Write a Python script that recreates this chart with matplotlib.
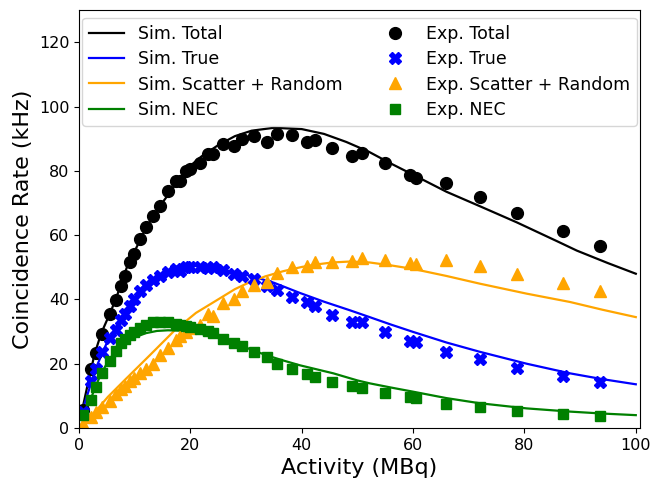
import numpy as np
import matplotlib
matplotlib.use("Agg")
import matplotlib.pyplot as plt

# --- simulated curves ---
sim_total_x = [0, 0.7, 1.5, 2.8, 4, 5.8, 7, 8.8, 10, 11.8, 13, 14.8, 16, 17.8, 19.6, 22, 25, 28, 31, 35,
               40, 44, 48, 52, 56, 60, 66, 72, 78.6, 86, 89.4, 95, 100]
sim_total_y = [5, 6.6, 13, 23, 29.5, 36.6, 42, 51, 55, 61.4, 65, 69.7, 72.5, 76.9, 81, 84.5, 88, 90.8, 92.5, 93.4,
               93, 91.5, 89, 86, 82.3, 78.8, 73.5, 69, 64, 58, 55.2, 51.3, 48]

sim_true_x = [0, 1, 2, 3, 4, 5, 6, 7, 8, 9, 10, 12, 14, 16, 18, 20, 22, 25, 28, 30.7, 35, 39.7, 44, 48.7,
              52.2, 56, 60, 66, 72, 80.4, 88.2, 94, 100]
sim_true_y = [4.5, 7.5, 13, 18.5, 22.5, 26.5, 29.5, 32.5, 35, 37.5, 39.5, 43, 46, 48.2, 49.6, 50.4, 50.4, 49.6,
              48.4, 47.4, 45.2, 42, 39.3, 36.6, 34.5, 32.2, 29.9, 26.6, 23.7, 20, 17, 15.2, 13.6]

sim_sr_x = [0, 2, 5.2, 8.2, 12.7, 17.2, 21, 24.7, 28, 30.7, 33.5, 36.7, 40, 42.7, 45.5, 48.7, 52.2, 56, 60,
            66, 72, 80.4, 88.2, 94, 100]
sim_sr_y = [0.5, 3.2, 9.7, 14.9, 22.6, 30.4, 35.8, 39.7, 43.2, 45.4, 47.2, 48.8, 50.1, 50.9, 51.5, 51.8, 51.5,
            50.6, 49.5, 47.3, 44.9, 41.8, 39.2, 36.8, 34.5]

sim_nec_x = [0, 1, 2, 3, 4, 5, 6, 7, 8, 9, 10, 12, 14, 16, 18, 20, 22, 25, 27.7, 30, 33.7, 36.7, 39.7, 45.7,
             50, 52.2, 56, 60, 66, 72, 80.4, 88.2, 94, 100]
sim_nec_y = [3, 4.5, 8.5, 13, 17, 20, 22.5, 24.5, 26, 27.3, 28.2, 29.5, 30.2, 30.4, 30.3, 29.9, 29.3, 28.2,
             26.8, 25, 22.6, 21, 19.5, 17, 14.8, 13.9, 12.6, 11.3, 9.3, 7.7, 6.1, 5.1, 4.5, 4.0]

# --- experimental points ---
exp_x = [0.7, 2.2, 3.1, 4.1, 5.5, 6.7, 7.5, 8.2, 9.1, 9.9, 10.9, 12.1, 13.3, 14.5, 16.0, 17.5, 18.1, 19.3,
         19.9, 21.7, 23.2, 24.1, 25.9, 27.9, 29.2, 31.4, 33.8, 35.5, 38.2, 40.9, 42.4, 45.5, 49.1, 50.8,
         54.9, 59.4, 60.5, 66.0, 72.0, 78.7, 86.9, 93.5]
exp_total = [5.6, 18.5, 23.2, 29.4, 35.6, 39.7, 44.3, 47.4, 51.6, 54.2, 58.8, 62.4, 66.0, 69.1, 73.8, 76.9,
             76.9, 80.0, 80.5, 82.6, 85.2, 85.2, 88.3, 87.8, 89.8, 90.9, 89.1, 91.4, 91.2, 89.1, 89.6, 87.0,
             84.7, 85.5, 82.6, 78.7, 77.9, 76.2, 72.0, 66.9, 61.4, 56.7]
exp_true = [5.0, 14.5, 18.5, 23.5, 28, 30.5, 33.5, 35.5, 38, 40, 42.5, 44.5, 46, 47.2, 48.6, 49.4, 49.0, 50.0,
            50.0, 50.2, 49.8, 50.0, 49.2, 47.8, 47.4, 46.5, 44.3, 42.8, 40.7, 39.2, 38.1, 35.3, 33.0, 33.0,
            29.9, 27.0, 26.8, 23.7, 21.6, 18.8, 16.1, 14.4]
exp_sr = [1.4, 3.5, 5.0, 6.5, 8.5, 10.5, 12.0, 13.0, 14.5, 15.5, 17.0, 18.5, 19.8, 22.6, 25.0, 27.5, 28.5, 30.0,
          31.0, 32.2, 35.6, 35.0, 38.9, 40.2, 42.6, 44.6, 45.4, 48.3, 50.0, 50.5, 51.6, 51.8, 51.9, 52.9,
          52.4, 51.3, 51.1, 52.4, 50.5, 48.0, 45.2, 42.5]
exp_nec = [4.0, 8.7, 12.8, 17.0, 21.0, 24.0, 26.3, 27.8, 29.0, 30.0, 31.0, 32.0, 33.0, 33.0, 33.0, 32.5, 32.2,
           31.8, 31.4, 30.9, 30.2, 29.6, 27.8, 26.3, 25.5, 23.8, 22.0, 20.0, 18.5, 16.7, 15.9, 14.4, 13.0,
           12.6, 10.8, 9.7, 9.4, 7.6, 6.6, 5.4, 4.3, 3.8]

fig = plt.figure(figsize=(6.5, 4.84), dpi=100)
ax = fig.add_axes([0.1215, 0.1157, 0.8635, 0.8633])

h1, = ax.plot(sim_total_x, sim_total_y, color='black', lw=1.6, label='Sim. Total')
h2, = ax.plot(sim_true_x, sim_true_y, color='blue', lw=1.6, label='Sim. True')
h3, = ax.plot(sim_sr_x, sim_sr_y, color='orange', lw=1.6, label='Sim. Scatter + Random')
h4, = ax.plot(sim_nec_x, sim_nec_y, color='green', lw=1.6, label='Sim. NEC')

h5, = ax.plot(exp_x, exp_total, 'o', color='black', ms=8.5, label='Exp. Total')
h6, = ax.plot(exp_x, exp_true, 'X', color='blue', ms=8, label='Exp. True')
h7, = ax.plot(exp_x, exp_sr, '^', color='orange', ms=8.5, label='Exp. Scatter + Random')
h8, = ax.plot(exp_x, exp_nec, 's', color='green', ms=7.5, label='Exp. NEC')

ax.set_xlim(0, 100.8)
ax.set_ylim(0, 130)
ax.set_xticks([0, 20, 40, 60, 80, 100])
ax.set_yticks([0, 20, 40, 60, 80, 100, 120])
ax.tick_params(labelsize=11.5)
ax.set_xlabel('Activity (MBq)', fontsize=16)
ax.set_ylabel('Coincidence Rate (kHz)', fontsize=16)

ax.legend(handles=[h1, h2, h3, h4, h5, h6, h7, h8], ncol=2, loc='upper center',
          fontsize=12.5, columnspacing=2.0, labelspacing=0.42, borderaxespad=0.45)

fig.savefig('out.png', dpi=100)
